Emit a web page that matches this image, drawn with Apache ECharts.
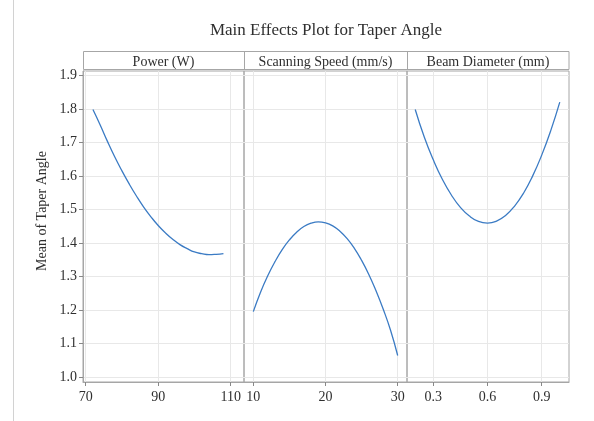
<!DOCTYPE html>
<html><head><meta charset="utf-8">
<script src="https://cdn.jsdelivr.net/npm/echarts@6/dist/echarts.min.js"></script>
<style>html,body{margin:0;padding:0;background:#fff}#c{width:594px;height:421px}</style>
</head><body><div id="c"></div>
<script>
const chartTitle = 'Main Effects Plot for Taper Angle';
const yAxisTitle = 'Mean of Taper Angle';
const panelTitles = ['Power (W)', 'Scanning Speed (mm/s)', 'Beam Diameter (mm)'];

const powerX = [72, 74, 76, 78, 80, 82, 84, 86, 88, 90, 92, 94, 96, 98, 100, 102, 104, 106, 108];
const powerY = [1.798, 1.752, 1.703, 1.657, 1.615, 1.576, 1.540, 1.507, 1.478, 1.452, 1.430, 1.411, 1.395, 1.383, 1.373, 1.368, 1.365, 1.366, 1.368];

const speedX = [10, 11, 12, 13, 14, 15, 16, 17, 18, 19, 20, 21, 22, 23, 24, 25, 26, 27, 28, 29, 30];
const speedY = [1.195, 1.253, 1.302, 1.344, 1.380, 1.409, 1.432, 1.449, 1.459, 1.463, 1.460, 1.451, 1.435, 1.413, 1.384, 1.348, 1.306, 1.257, 1.202, 1.140, 1.064];

const beamX = [0.20, 0.25, 0.30, 0.35, 0.40, 0.45, 0.50, 0.55, 0.60, 0.65, 0.70, 0.75, 0.80, 0.85, 0.90, 0.95, 1.00];
const beamY = [1.798, 1.716, 1.648, 1.590, 1.543, 1.506, 1.480, 1.464, 1.459, 1.465, 1.482, 1.510, 1.549, 1.600, 1.662, 1.735, 1.820];

const yTicks = [1.0, 1.1, 1.2, 1.3, 1.4, 1.5, 1.6, 1.7, 1.8, 1.9];
const powerTicks = [70, 90, 110];
const speedTicks = [10, 20, 30];
const beamTicks = [0.3, 0.6, 0.9];

const FONT = '"Liberation Serif", "Times New Roman", serif';
const TXT = '#2f2f2f';
const FRAME = '#a6a6a6';
const GRIDC = '#e8e8e8';
const LINEC = '#3b7bc4';

const grids = [
  {left: 83, top: 71, width: 161, height: 311},
  {left: 244, top: 71, width: 163, height: 311},
  {left: 407, top: 71, width: 162, height: 311}
].map(g => Object.assign(g, {show: true, borderColor: FRAME, borderWidth: 1, containLabel: false}));

const xRanges = [[69.26, 113.67], [8.71, 31.29], [0.1545, 1.051]];
const xTickSets = [powerTicks, speedTicks, beamTicks];

const xAxes = xRanges.map((r, i) => ({
  type: 'value', gridIndex: i, min: r[0], max: r[1],
  axisLine: {show: true, lineStyle: {color: FRAME}},
  axisTick: {show: true, length: 4, lineStyle: {color: '#888'}, customValues: xTickSets[i]},
  axisLabel: {customValues: xTickSets[i], color: TXT, fontFamily: FONT, fontSize: 14, margin: 8,
    formatter: v => String(v)},
  splitLine: {show: true, lineStyle: {color: GRIDC}}
}));

const yAxes = [0, 1, 2].map(i => ({
  type: 'value', gridIndex: i, min: 0.985, max: 1.913,
  axisLine: {show: i === 0, lineStyle: {color: FRAME}},
  axisTick: {show: i === 0, length: 4, lineStyle: {color: '#888'}, customValues: yTicks},
  axisLabel: {show: i === 0, customValues: yTicks, color: TXT, fontFamily: FONT, fontSize: 14, margin: 6,
    formatter: v => v.toFixed(1)},
  splitLine: {show: true, lineStyle: {color: GRIDC}}
}));

function pairs(xs, ys) { return xs.map((x, k) => [x, ys[k]]); }
const seriesData = [pairs(powerX, powerY), pairs(speedX, speedY), pairs(beamX, beamY)];

const series = seriesData.map((d, i) => ({
  type: 'line', xAxisIndex: i, yAxisIndex: i, data: d, smooth: true,
  showSymbol: false, symbol: 'none', lineStyle: {color: LINEC, width: 1.3}, silent: true
}));

const headerCenters = [163.5, 325.5, 488];
const graphic = [
  {type: 'line', shape: {x1: 13.5, y1: 0, x2: 13.5, y2: 421}, style: {stroke: '#d2d2d2', lineWidth: 1}},
  {type: 'rect', shape: {x: 83.5, y: 51.5, width: 485.5, height: 18}, style: {fill: '#fff', stroke: FRAME, lineWidth: 1}},
  {type: 'line', shape: {x1: 244.5, y1: 51.5, x2: 244.5, y2: 69.5}, style: {stroke: FRAME, lineWidth: 1}},
  {type: 'line', shape: {x1: 407.5, y1: 51.5, x2: 407.5, y2: 69.5}, style: {stroke: FRAME, lineWidth: 1}},
  {type: 'text', x: 326, y: 31, style: {text: chartTitle, fill: TXT, font: '17px ' + FONT, textAlign: 'center', textVerticalAlign: 'middle'}},
  {type: 'text', x: 42.5, y: 211, rotation: Math.PI / 2, style: {text: yAxisTitle, fill: TXT, font: '14px ' + FONT, textAlign: 'center', textVerticalAlign: 'middle'}}
].concat(panelTitles.map((t, i) => ({
  type: 'text', x: headerCenters[i], y: 62.5,
  style: {text: t, fill: TXT, font: '14px ' + FONT, textAlign: 'center', textVerticalAlign: 'middle'}
})));

const chart = echarts.init(document.getElementById('c'), null, {renderer: 'canvas'});
chart.setOption({
  animation: false,
  backgroundColor: '#fff',
  grid: grids,
  xAxis: xAxes,
  yAxis: yAxes,
  series: series,
  graphic: graphic
});
</script>
</body></html>
